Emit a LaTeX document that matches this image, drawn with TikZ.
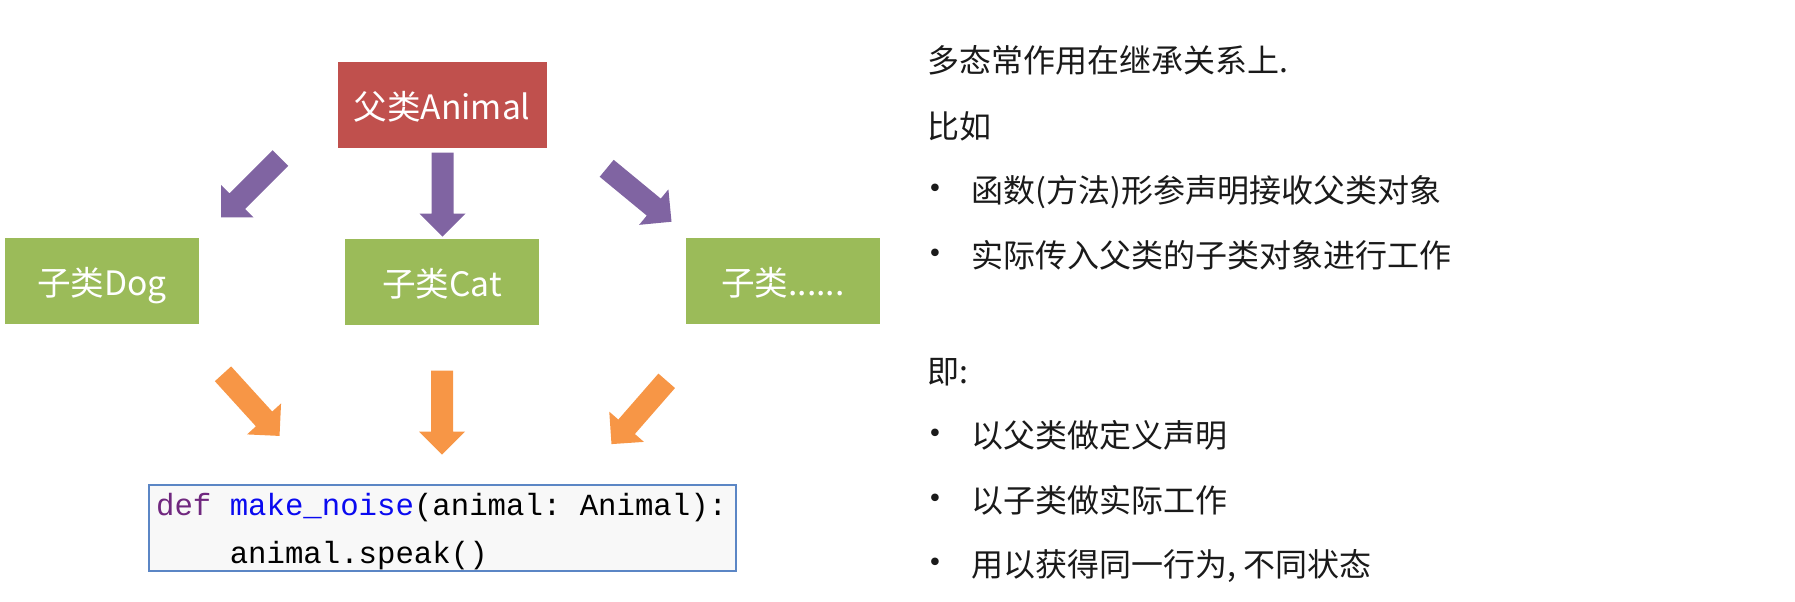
\documentclass[tikz,border=0pt]{standalone}
\usepackage{fontspec}
\setmainfont{Liberation Sans}
\newfontfamily\cjk{Noto Sans CJK SC}
\newfontfamily\codefont{Liberation Mono}
\newfontfamily\bulletfont{DejaVu Sans}
\definecolor{animalred}{HTML}{C0504D}
\definecolor{subgreen}{HTML}{9BBB59}
\definecolor{arrowpurple}{HTML}{8064A2}
\definecolor{arroworange}{HTML}{F79646}
\definecolor{codeborder}{HTML}{5B86C5}
\definecolor{codebg}{HTML}{F8F8F8}
\definecolor{textdark}{HTML}{1A1A1A}
\definecolor{defpurple}{HTML}{70287F}
\definecolor{fnblue}{HTML}{0A0AF0}
\newcommand\blockarrow[3]{\fill[#1, shift={#2}, rotate=#3] (0,-11) -- (61,-11) -- (61,-23) -- (84,0) -- (61,23) -- (61,11) -- (0,11) -- cycle;}
\tikzset{
  classbox/.style={rectangle, inner sep=0pt, text=white, font=\cjk\fontsize{16.8pt}{20pt}\selectfont, text height=1.55em, text depth=0.07em, minimum height=43pt},
  codebox/.style={rectangle, draw=codeborder, line width=0.75pt, fill=codebg, inner sep=0pt},
  codetext/.style={anchor=base west, inner sep=0pt, font=\codefont\fontsize{15.35pt}{18pt}\selectfont\frenchspacing, text=black},
  rtext/.style={anchor=west, inner sep=0pt, font=\cjk\fontsize{16pt}{19pt}\selectfont, text=textdark, text height=1.18em, text depth=0.07em},
  bulletdot/.style={inner sep=0pt, font=\bulletfont\fontsize{13pt}{15pt}\selectfont, text=textdark}
}
\begin{document}
\begin{tikzpicture}[x=0.5pt,y=-0.5pt]
\useasboundingbox (0,0) rectangle (1795,601);
% class boxes
\node[classbox, fill=animalred, minimum width=104.5pt] (animal) at (442,104.5) {父类Animal};
\node[classbox, fill=subgreen, minimum width=97pt] (dog) at (102,281) {子类Dog};
\node[classbox, fill=subgreen, minimum width=97pt] (cat) at (442,282) {子类Cat};
\node[classbox, fill=subgreen, minimum width=97pt] (other) at (783,281) {子类......};
% purple arrows
\blockarrow{arrowpurple}{(280.5,158)}{225}
\blockarrow{arrowpurple}{(442.5,152.7)}{270}
\blockarrow{arrowpurple}{(606.7,168.3)}{-39.5}
% orange arrows
\blockarrow{arroworange}{(223,373.8)}{-47.7}
\blockarrow{arroworange}{(442,370.7)}{270}
\blockarrow{arroworange}{(666.7,380.8)}{228.9}
% code box
\node[codebox, minimum width=293.5pt, minimum height=43pt] (code) at (442.5,528) {};
\node[codetext] (code1) at (155.7,515) {\textcolor{defpurple}{def} \textcolor{fnblue}{make\_noise}(animal: Animal):};
\node[codetext] (code2) at (155.7,563.3) {\hphantom{xxxx}animal.speak()};
% right text
\node[rtext] (t1) at (927,61.5) {多态常作用在继承关系上.};
\node[rtext] (t2) at (927,127.5) {比如};
\node[bulletdot] (d1) at (935,191) {•};
\node[rtext] (b1) at (971,191.5) {函数(方法)形参声明接收父类对象};
\node[bulletdot] (d2) at (935,256) {•};
\node[rtext] (b2) at (971,256.5) {实际传入父类的子类对象进行工作};
\node[rtext] (t3) at (927,372.5) {即:};
\node[bulletdot] (d3) at (935,436) {•};
\node[rtext] (b3) at (971,436.5) {以父类做定义声明};
\node[bulletdot] (d4) at (935,501) {•};
\node[rtext] (b4) at (971,501.5) {以子类做实际工作};
\node[bulletdot] (d5) at (935,565) {•};
\node[rtext] (b5) at (971,565.5) {用以获得同一行为, 不同状态};
\end{tikzpicture}
\end{document}
